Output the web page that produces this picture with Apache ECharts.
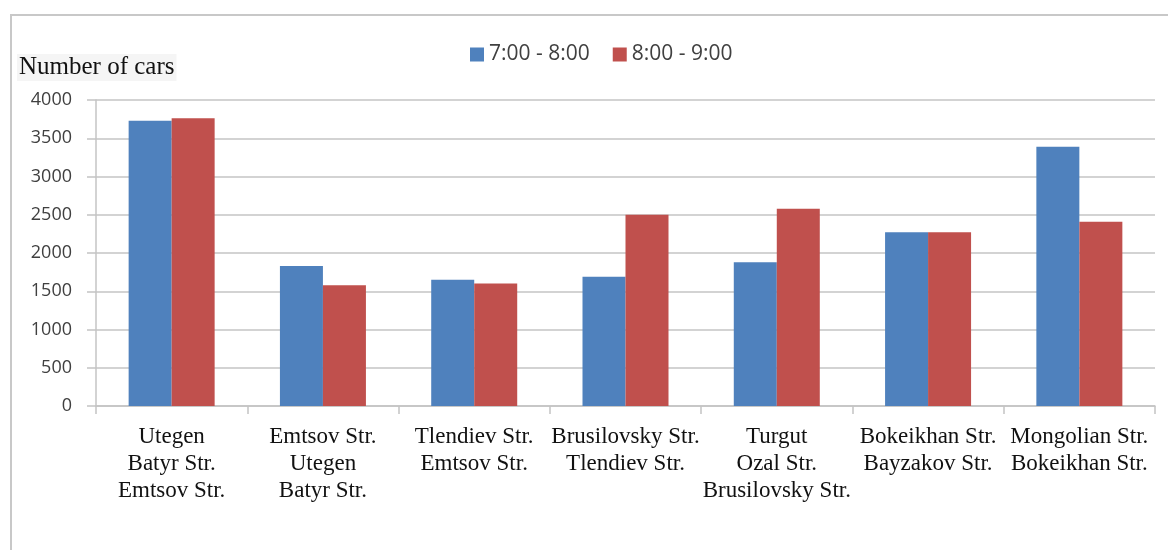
<!DOCTYPE html>
<html>
<head>
<meta charset="utf-8">
<script src="https://cdn.jsdelivr.net/npm/echarts@6/dist/echarts.min.js"></script>
<style>
  html, body { margin: 0; padding: 0; background: #ffffff; }
  #chart { width: 1168px; height: 550px; }
</style>
</head>
<body>
<div id="chart"></div>
<script>
// Intersections (two street names per category, stacked on separate lines)
const categories = [
  'Utegen\nBatyr Str.\nEmtsov Str.',
  'Emtsov Str.\nUtegen\nBatyr Str.',
  'Tlendiev Str.\nEmtsov Str.',
  'Brusilovsky Str.\nTlendiev Str.',
  'Turgut\nOzal Str.\nBrusilovsky Str.',
  'Bokeikhan Str.\nBayzakov Str.',
  'Mongolian Str.\nBokeikhan Str.'
];

// Number of cars per hour window
const seriesNames = ['7:00 - 8:00', '8:00 - 9:00'];
const cars7to8 = [3730, 1830, 1650, 1690, 1880, 2270, 3390];
const cars8to9 = [3760, 1580, 1600, 2500, 2580, 2270, 2410];

const yMin = 0, yMax = 4000, yStep = 500;

const chart = echarts.init(document.getElementById('chart'), null, { renderer: 'canvas' });

const gridColor = '#c4c4c4';
const sansFont = '"Open Sans", "Liberation Sans", sans-serif';
const serifFont = '"Liberation Serif", "DejaVu Serif", serif';

chart.setOption({
  backgroundColor: '#ffffff',
  animation: false,
  graphic: [
    {
      // frame around the chart area
      type: 'rect',
      shape: { x: 11, y: 15, width: 1180, height: 560 },
      style: { fill: 'none', stroke: '#c8c8c8', lineWidth: 2 },
      silent: true
    },
    {
      type: 'text',
      left: 17,
      top: 54,
      style: {
        text: 'Number of cars',
        font: '25px ' + serifFont,
        fill: '#111111',
        backgroundColor: '#f5f5f5',
        padding: [1, 2, 1, 2]
      }
    }
  ],
  legend: {
    data: seriesNames,
    left: 465,
    top: 39,
    itemWidth: 14,
    itemHeight: 14,
    itemGap: 23,
    icon: 'rect',
    textStyle: {
      fontFamily: sansFont,
      fontSize: 21,
      color: '#404040'
    }
  },
  grid: {
    left: 96,
    right: 13,
    top: 100,
    bottom: 144,
    containLabel: false
  },
  xAxis: {
    type: 'category',
    data: categories,
    axisLine: { show: true, lineStyle: { color: gridColor, width: 1.5 } },
    axisTick: {
      show: true,
      length: 8,
      lineStyle: { color: gridColor, width: 1.5 }
    },
    axisLabel: {
      interval: 0,
      margin: 17,
      fontFamily: serifFont,
      fontSize: 23,
      lineHeight: 27,
      color: '#111111',
      align: 'center'
    }
  },
  yAxis: {
    type: 'value',
    min: yMin,
    max: yMax,
    interval: yStep,
    axisLine: { show: true, lineStyle: { color: gridColor, width: 1.5 } },
    axisTick: {
      show: true,
      length: 9,
      lineStyle: { color: gridColor, width: 1.5 }
    },
    axisLabel: {
      margin: 24,
      fontFamily: sansFont,
      fontSize: 18,
      color: '#404040',
      formatter: (v) => String(v)
    },
    splitLine: { show: true, lineStyle: { color: gridColor, width: 1.5 } }
  },
  series: [
    {
      name: seriesNames[0],
      type: 'bar',
      data: cars7to8,
      barWidth: 43,
      barGap: '0%',
      itemStyle: { color: '#4f81bd' }
    },
    {
      name: seriesNames[1],
      type: 'bar',
      data: cars8to9,
      barWidth: 43,
      barGap: '0%',
      itemStyle: { color: '#c0504d' }
    }
  ]
});
</script>
</body>
</html>
